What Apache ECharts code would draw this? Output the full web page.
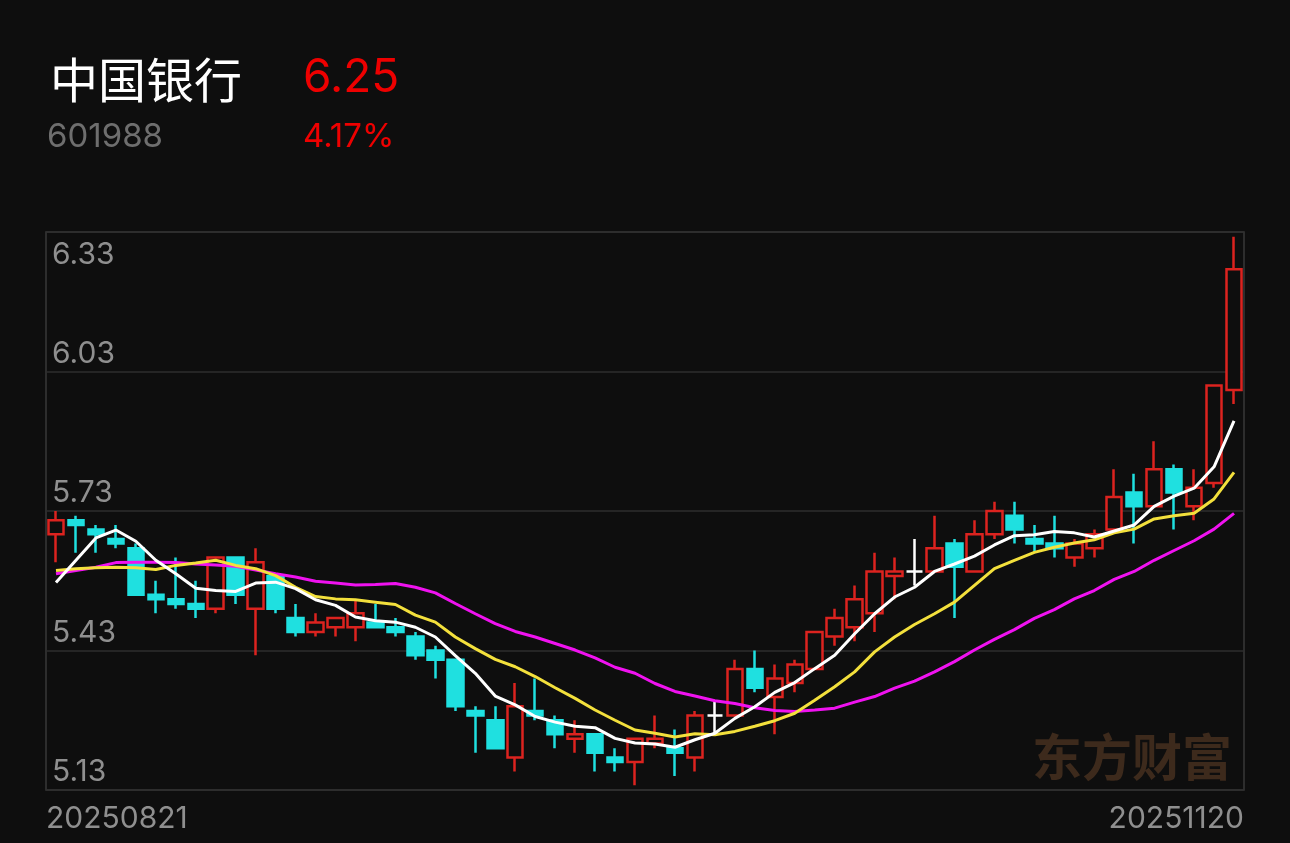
<!DOCTYPE html>
<html>
<head>
<meta charset="utf-8">
<script src="https://cdn.jsdelivr.net/npm/echarts@6/dist/echarts.min.js"></script>
<style>
  html, body { margin: 0; padding: 0; background: #0e0e0e; }
  #chart { width: 1290px; height: 843px; }
</style>
</head>
<body>
<div id="chart"></div>
<script>
// ---- data ----
const stockName = '中国银行';
const stockCode = '601988';
const lastPrice = '6.25';
const changePct = '4.17%';

const dates = [
  '20250821','20250822','20250825','20250826','20250827','20250828','20250829',
  '20250901','20250902','20250903','20250904','20250905','20250908','20250909','20250910','20250911','20250912',
  '20250915','20250916','20250917','20250918','20250919','20250922','20250923','20250924','20250925','20250926',
  '20250929','20250930',
  '20251009','20251010','20251013','20251014','20251015','20251016','20251017','20251020','20251021','20251022',
  '20251023','20251024','20251027','20251028','20251029','20251030','20251031',
  '20251103','20251104','20251105','20251106','20251107','20251110','20251111','20251112','20251113','20251114',
  '20251117','20251118','20251119','20251120'
];

const opens  = [5.68,5.71,5.69,5.67,5.65,5.55,5.54,5.53,5.52,5.63,
                5.52,5.59,5.50,5.47,5.48,5.48,5.49,5.48,5.46,5.43,
                5.41,5.30,5.28,5.20,5.30,5.28,5.24,5.25,5.20,5.19,
                5.23,5.22,5.20,5.29,5.29,5.39,5.33,5.36,5.39,5.46,
                5.48,5.51,5.59,5.60,5.60,5.66,5.60,5.68,5.72,5.67,
                5.66,5.63,5.65,5.69,5.77,5.74,5.82,5.74,5.79,5.99];
const closes = [5.71,5.70,5.68,5.66,5.55,5.54,5.53,5.52,5.63,5.55,
                5.62,5.52,5.47,5.49,5.50,5.51,5.48,5.47,5.42,5.41,
                5.31,5.29,5.22,5.31,5.29,5.25,5.25,5.21,5.19,5.24,
                5.24,5.21,5.29,5.29,5.39,5.35,5.37,5.40,5.47,5.50,
                5.54,5.60,5.60,5.60,5.65,5.61,5.68,5.73,5.69,5.66,
                5.65,5.66,5.68,5.76,5.74,5.82,5.77,5.78,6.00,6.25];
const lows   = [5.62,5.64,5.64,5.65,5.55,5.51,5.52,5.50,5.51,5.53,
                5.42,5.51,5.46,5.46,5.46,5.45,5.48,5.46,5.41,5.37,
                5.30,5.21,5.22,5.17,5.28,5.22,5.21,5.17,5.17,5.14,
                5.22,5.16,5.17,5.25,5.29,5.34,5.25,5.34,5.39,5.44,
                5.45,5.47,5.54,5.57,5.60,5.50,5.60,5.67,5.66,5.64,
                5.63,5.61,5.63,5.69,5.66,5.74,5.69,5.71,5.78,5.96];
const highs  = [5.73,5.72,5.70,5.70,5.66,5.58,5.63,5.58,5.63,5.63,
                5.65,5.59,5.53,5.51,5.50,5.54,5.53,5.50,5.47,5.44,
                5.41,5.31,5.31,5.36,5.37,5.29,5.28,5.25,5.22,5.24,
                5.29,5.26,5.30,5.32,5.41,5.43,5.40,5.41,5.47,5.52,
                5.57,5.64,5.63,5.67,5.72,5.67,5.71,5.75,5.75,5.70,
                5.72,5.67,5.69,5.82,5.81,5.88,5.83,5.82,6.00,6.32];

const ma5  = [5.576,5.624,5.672,5.689,5.665,5.624,5.595,5.564,5.559,5.557,
              5.575,5.577,5.563,5.539,5.527,5.502,5.494,5.491,5.480,5.459,
              5.419,5.381,5.332,5.313,5.288,5.276,5.267,5.264,5.241,5.231,
              5.229,5.222,5.238,5.252,5.284,5.309,5.340,5.361,5.391,5.420,
              5.466,5.509,5.545,5.566,5.600,5.616,5.633,5.657,5.677,5.679,
              5.686,5.683,5.674,5.687,5.700,5.740,5.762,5.779,5.825,5.924];
const ma10 = [5.602,5.606,5.608,5.609,5.608,5.604,5.613,5.618,5.624,5.613,
              5.606,5.591,5.566,5.546,5.541,5.539,5.534,5.529,5.506,5.491,
              5.459,5.434,5.411,5.395,5.374,5.350,5.327,5.302,5.280,5.259,
              5.252,5.244,5.251,5.249,5.256,5.267,5.279,5.295,5.323,5.352,
              5.384,5.427,5.459,5.486,5.509,5.534,5.570,5.606,5.624,5.641,
              5.652,5.661,5.668,5.683,5.691,5.713,5.720,5.725,5.756,5.813];
const ma20 = [5.595,5.602,5.609,5.619,5.620,5.620,5.619,5.616,5.614,5.611,
              5.603,5.595,5.588,5.579,5.575,5.571,5.572,5.574,5.566,5.554,
              5.531,5.509,5.488,5.471,5.459,5.445,5.431,5.414,5.394,5.381,
              5.359,5.342,5.332,5.322,5.316,5.307,5.301,5.299,5.302,5.306,
              5.319,5.331,5.349,5.364,5.384,5.406,5.431,5.454,5.475,5.499,
              5.518,5.541,5.559,5.583,5.600,5.624,5.645,5.666,5.691,5.725];

const yMin = 5.13, yMax = 6.33, yStep = 0.30;

// ---- chart ----
const candleData = opens.map((o, i) => [o, closes[i], lows[i], highs[i]]);

const RED = '#dc231f';
const CYAN = '#1fe0e0';
const BG = '#0e0e0e';
const LABEL = '#8f8f8f';

const chart = echarts.init(document.getElementById('chart'), null, { renderer: 'canvas' });
chart.setOption({
  backgroundColor: BG,
  animation: false,
  grid: {
    left: 46, right: 46, top: 232, bottom: 53,
    show: true, borderColor: '#383838', borderWidth: 1.5, backgroundColor: 'transparent'
  },
  xAxis: [
    {
      type: 'category', data: dates, boundaryGap: true,
      axisLine: { show: false }, axisTick: { show: false },
      axisLabel: { show: false }, splitLine: { show: false }
    },
    {
      type: 'category', data: dates, boundaryGap: false, position: 'bottom',
      axisLine: { show: false }, axisTick: { show: false }, splitLine: { show: false },
      axisLabel: {
        interval: (idx) => idx === 0 || idx === dates.length - 1,
        color: LABEL, fontSize: 30, fontFamily: 'Inter', margin: 14,
        alignMinLabel: 'left', alignMaxLabel: 'right'
      }
    }
  ],
  yAxis: {
    type: 'value', min: yMin, max: yMax, interval: yStep, scale: true,
    axisLine: { show: false }, axisTick: { show: false },
    splitLine: { show: true, lineStyle: { color: '#2e2e2e', width: 1.5 } },
    axisLabel: {
      inside: true, margin: 6, verticalAlign: 'middle',
      formatter: (v) => {
        const s = v.toFixed(2);
        return Math.abs(v - yMax) < 1e-6 ? '{t|' + s + '}' : '{b|' + s + '}';
      },
      rich: {
        t: { color: LABEL, fontSize: 30, fontFamily: 'Inter', padding: [46, 0, 0, 0] },
        b: { color: LABEL, fontSize: 30, fontFamily: 'Inter', padding: [0, 0, 36, 0] }
      }
    }
  },
  graphic: [
    { type: 'text', x: 50, y: 80, z: 10, style: { text: stockName, fill: '#ffffff', fontSize: 48, fontFamily: '"Noto Sans CJK SC"', verticalAlign: 'middle' } },
    { type: 'text', x: 303, y: 78, z: 10, style: { text: lastPrice, fill: '#ee0000', fontSize: 46, fontFamily: 'Inter', verticalAlign: 'middle' } },
    { type: 'text', x: 47, y: 137, z: 10, style: { text: stockCode, fill: '#6e6e6e', fontSize: 33, fontFamily: 'Inter', verticalAlign: 'middle' } },
    { type: 'text', x: 303, y: 137, z: 10, style: { text: changePct, fill: '#ee0000', fontSize: 33, fontFamily: 'Inter', verticalAlign: 'middle' } },
    { type: 'text', x: 1032, y: 757, z: 0, style: { text: '东方财富', fill: '#3d2a1c', fontSize: 50, fontWeight: 'bold', fontFamily: '"Noto Sans CJK SC"', verticalAlign: 'middle' } }
  ],
  series: [
    {
      type: 'candlestick', xAxisIndex: 0, data: candleData, barWidth: 16,
      itemStyle: {
        color: BG, color0: CYAN,
        borderColor: RED, borderColor0: CYAN, borderColorDoji: '#ffffff',
        borderWidth: 2.5
      }
    },
    { type: 'line', xAxisIndex: 0, data: ma20, showSymbol: false, z: 3, lineStyle: { color: '#f012f0', width: 3 } },
    { type: 'line', xAxisIndex: 0, data: ma10, showSymbol: false, z: 3, lineStyle: { color: '#f3e03c', width: 3 } },
    { type: 'line', xAxisIndex: 0, data: ma5,  showSymbol: false, z: 3, lineStyle: { color: '#ffffff', width: 3 } }
  ]
});
</script>
</body>
</html>
